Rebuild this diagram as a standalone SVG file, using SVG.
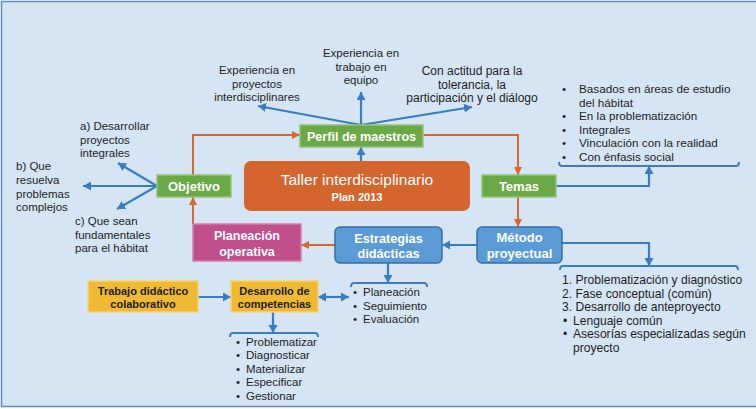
<svg xmlns="http://www.w3.org/2000/svg" width="756" height="409" viewBox="0 0 756 409">
<style>
text{font-family:"Liberation Sans",Arial,sans-serif}
.lbl{font-size:11.5px;fill:#1e1e1e}
.lt{font-size:11.7px;fill:#1e1e1e}
.lm{font-size:12.1px;fill:#1e1e1e}
.nt{font-size:13px;font-weight:bold;fill:#fff;text-anchor:middle}
.yt{font-size:11px;font-weight:bold;fill:#1e1e1e;text-anchor:middle}
.c{text-anchor:middle}
.or{fill:none;stroke:#d9682d;stroke-width:2;marker-end:url(#ao)}
.bl{fill:none;stroke:#3a7cc0;stroke-width:2.2;marker-end:url(#ab)}
.br{fill:none;stroke:#3a7cc0;stroke-width:2}
.green{fill:#6aa945;stroke:#95c378;stroke-width:1.5}
.blue{fill:#5b9bd5;stroke:#3a6ea5;stroke-width:1.5}
</style>
<defs>
<marker id="ao" markerUnits="userSpaceOnUse" markerWidth="9" markerHeight="9" refX="8" refY="4" orient="auto"><path d="M0,0 L8,4 L0,8 z" fill="#d9682d"/></marker>
<marker id="ab" markerUnits="userSpaceOnUse" markerWidth="10" markerHeight="10" refX="8" refY="4.5" orient="auto-start-reverse"><path d="M0,0 L8,4.5 L0,9 z" fill="#3a7cc0"/></marker>
</defs>
<rect x="1.5" y="1.5" width="762" height="405" fill="#d5e5f3" stroke="#5f8bbd" stroke-width="1.5"/>

<g id="connectors">
<path class="or" d="M193,175 V135 H300"/>
<path class="or" d="M423,135 H518 V175"/>
<path class="or" d="M518,197 V227"/>
<path class="or" d="M193,224 V197"/>
<path class="or" d="M335,245 H301"/>
<path class="bl" d="M361,125 L258,106"/>
<path class="bl" d="M361,125 V92"/>
<path class="bl" d="M361,125 L472,107"/>
<path class="bl" d="M361,161 V147"/>
<path class="bl" d="M157,186 L118,163"/>
<path class="bl" d="M157,186 H83"/>
<path class="bl" d="M157,186 L117,209"/>
<path class="bl" d="M477,245 H442"/>
<path class="bl" d="M556,186 H649 V166"/>
<path class="bl" d="M562,243 H649 V266"/>
<path class="bl" d="M388,263 V283"/>
<path class="bl" d="M198,297 H231"/>
<path class="bl" d="M318,297 H349" marker-start="url(#ab)"/>
<path class="bl" d="M273,312 V333"/>
<path class="br" d="M559,162 Q559,166 562,166 L736,166 Q739,166 739,162"/>
<path class="br" d="M560,270 Q560,266 563,266 L735,266 Q738,266 738,270"/>
<path class="br" d="M351,287 Q351,283 354,283 L424,283 Q427,283 427,287"/>
<path class="br" d="M230,337 Q230,333 233,333 L315,333 Q318,333 318,337"/>
</g>

<g id="taller">
<rect x="244" y="161" width="226" height="50" rx="7" fill="#d5652e"/>
<text x="357" y="185" class="c" style="font-size:15.5px;fill:#fff">Taller interdisciplinario</text>
<text x="357" y="201" class="c" style="font-size:11px;font-weight:bold;fill:#fff">Plan 2013</text>
</g>
<g id="perfil">
<rect x="300" y="125" width="123" height="22" class="green"/>
<text x="361.5" y="140.5" class="nt" style="font-size:12.6px">Perfil de maestros</text>
</g>
<g id="objetivo">
<rect x="157" y="175" width="74" height="22" class="green"/>
<text x="194" y="190.5" class="nt">Objetivo</text>
</g>
<g id="temas">
<rect x="482" y="175" width="74" height="22" class="green"/>
<text x="519" y="190.5" class="nt">Temas</text>
</g>
<g id="metodo">
<rect x="477" y="227" width="85" height="36" rx="5" class="blue"/>
<text x="519.5" y="241.5" class="nt">Método</text>
<text x="519.5" y="257.5" class="nt">proyectual</text>
</g>
<g id="estrategias">
<rect x="335" y="227" width="107" height="36" rx="5" class="blue"/>
<text x="388.5" y="242.5" class="nt" style="font-size:12.7px">Estrategias</text>
<text x="388.5" y="258" class="nt" style="font-size:12.7px">didácticas</text>
</g>
<g id="planeacion">
<rect x="193" y="224" width="108" height="37" fill="#c04f8c" stroke="#d47dac" stroke-width="1.5"/>
<text x="247" y="239.5" class="nt" style="font-size:12.5px">Planeación</text>
<text x="247" y="256" class="nt" style="font-size:12.5px">operativa</text>
</g>
<g id="trabajo">
<rect x="88" y="281" width="110" height="31" fill="#efb934" stroke="#f6d27c" stroke-width="1.5"/>
<text x="143" y="294.5" class="yt">Trabajo didáctico</text>
<text x="143" y="308" class="yt">colaborativo</text>
</g>
<g id="desarrollo">
<rect x="231" y="281" width="87" height="31" fill="#efb934" stroke="#f6d27c" stroke-width="1.5"/>
<text x="274.5" y="294.5" class="yt">Desarrollo de</text>
<text x="274.5" y="308" class="yt">competencias</text>
</g>

<g id="labels-perfil">
<text class="c lbl" x="257" y="74">Experiencia en</text>
<text class="c lbl" x="257" y="87.5">proyectos</text>
<text class="c lbl" x="257" y="101">interdisciplinares</text>
<text class="c lbl" x="361" y="57">Experiencia en</text>
<text class="c lbl" x="361" y="70.5">trabajo en</text>
<text class="c lbl" x="361" y="84">equipo</text>
<text class="c lbl" x="472" y="75" style="font-size:12px">Con actitud para la</text>
<text class="c lbl" x="472" y="88.5" style="font-size:12px">tolerancia, la</text>
<text class="c lbl" x="472" y="102" style="font-size:12px">participación y el diálogo</text>
</g>
<g id="labels-objetivo">
<text class="lbl" x="80" y="130">a) Desarrollar</text>
<text class="lbl" x="80" y="143.5">proyectos</text>
<text class="lbl" x="80" y="157">integrales</text>
<text class="lbl" x="16" y="170">b) Que</text>
<text class="lbl" x="16" y="184">resuelva</text>
<text class="lbl" x="16" y="197.5">problemas</text>
<text class="lbl" x="16" y="211">complejos</text>
<text class="lbl" x="75" y="225">c) Que sean</text>
<text class="lbl" x="75" y="238.5">fundamentales</text>
<text class="lbl" x="75" y="252">para el hábitat</text>
</g>
<g id="list-temas">
<text class="lt" x="562" y="93">•</text><text class="lt" x="579" y="93">Basados en áreas de estudio</text>
<text class="lt" x="579" y="106.5">del hábitat</text>
<text class="lt" x="562" y="120">•</text><text class="lt" x="579" y="120">En la problematización</text>
<text class="lt" x="562" y="133.5">•</text><text class="lt" x="579" y="133.5">Integrales</text>
<text class="lt" x="562" y="147">•</text><text class="lt" x="579" y="147">Vinculación con la realidad</text>
<text class="lt" x="562" y="160.5">•</text><text class="lt" x="579" y="160.5">Con énfasis social</text>
</g>
<g id="list-metodo">
<text class="lm" x="562" y="284">1. Problematización y diagnóstico</text>
<text class="lm" x="562" y="297.5">2. Fase conceptual (común)</text>
<text class="lm" x="562" y="311">3. Desarrollo de anteproyecto</text>
<text class="lm" x="563" y="324.5">•</text><text class="lm" x="573" y="324.5">Lenguaje común</text>
<text class="lm" x="563" y="338">•</text><text class="lm" x="573" y="338">Asesorías especializadas según</text>
<text class="lm" x="573" y="351.5">proyecto</text>
</g>
<g id="list-estrategias">
<text class="lbl" x="353" y="296">•</text><text class="lbl" x="363" y="296">Planeación</text>
<text class="lbl" x="353" y="309.5">•</text><text class="lbl" x="363" y="309.5">Seguimiento</text>
<text class="lbl" x="353" y="323">•</text><text class="lbl" x="363" y="323">Evaluación</text>
</g>
<g id="list-desarrollo">
<text class="lbl" x="236" y="345.5">•</text><text class="lbl" x="246" y="345.5">Problematizar</text>
<text class="lbl" x="236" y="359">•</text><text class="lbl" x="246" y="359">Diagnosticar</text>
<text class="lbl" x="236" y="372.5">•</text><text class="lbl" x="246" y="372.5">Materializar</text>
<text class="lbl" x="236" y="386">•</text><text class="lbl" x="246" y="386">Especificar</text>
<text class="lbl" x="236" y="399.5">•</text><text class="lbl" x="246" y="399.5">Gestionar</text>
</g>
</svg>
